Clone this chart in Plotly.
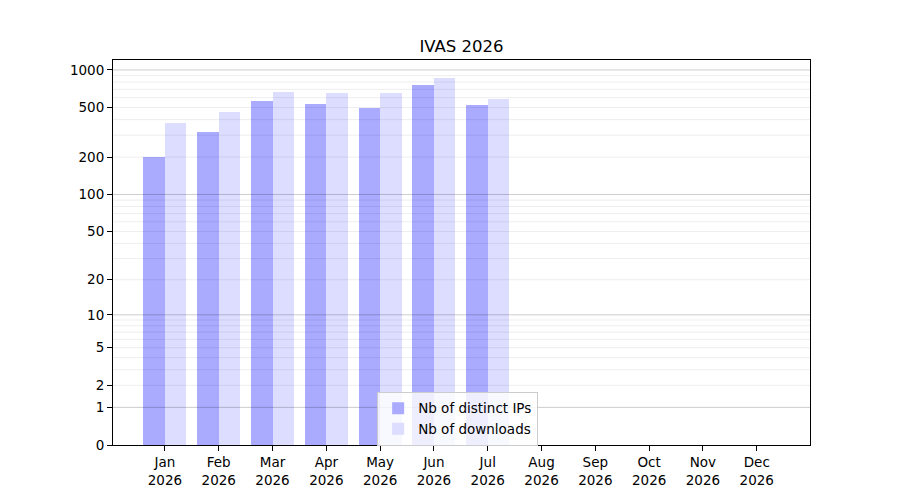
import numpy as np
import plotly.graph_objects as go

# monthly stats (Aug-Dec not reached yet)
months = ['Jan', 'Feb', 'Mar', 'Apr', 'May', 'Jun', 'Jul', 'Aug', 'Sep', 'Oct', 'Nov', 'Dec']
year = '2026'
distinct_ips = [201, 318, 564, 534, 496, 758, 524, 0, 0, 0, 0, 0]
downloads = [376, 461, 666, 654, 654, 862, 585, 0, 0, 0, 0, 0]

y_ticks = [0, 1, 2, 5, 10, 20, 50, 100, 200, 500, 1000]
major_grid = [1, 10, 100, 1000]
minor_grid = [2, 3, 4, 5, 6, 7, 8, 9, 20, 30, 40, 50, 60, 70, 80, 90,
              200, 300, 400, 500, 600, 700, 800, 900]

x = np.arange(len(months))
font = "DejaVu Sans"

fig = go.Figure()

# axis is log10(v + 1): bars sit on base 1 and reach 1 + v
fig.add_trace(go.Bar(x=x - 0.2, y=distinct_ips, base=1, width=0.4,
                     marker=dict(color='#aaaaff', line=dict(width=0)),
                     name='Nb of distinct IPs'))
fig.add_trace(go.Bar(x=x + 0.2, y=downloads, base=1, width=0.4,
                     marker=dict(color='#ddddff', line=dict(width=0)),
                     name='Nb of downloads'))


def grid_trace(values, color):
    gx, gy = [], []
    for v in values:
        gx += [-2, 13, None]
        gy += [v + 1, v + 1, None]
    return go.Scatter(x=gx, y=gy, mode='lines', line=dict(color=color, width=1),
                      showlegend=False, hoverinfo='skip')


# grid drawn over the bars, like the original
fig.add_trace(grid_trace(minor_grid, 'rgba(0,0,0,0.07)'))
fig.add_trace(grid_trace(major_grid, 'rgba(0,0,0,0.2)'))

# page body has an 8px margin, so figure is a bit smaller than the window
fig.update_layout(
    width=892, height=492,
    margin=dict(l=105, r=90, t=52, b=55),
    paper_bgcolor='white', plot_bgcolor='white',
    font=dict(family=font, size=13.5, color='black'),
    title=dict(text='IVAS ' + year, xref='paper', x=0.5, xanchor='center',
               y=0.923, yanchor='middle',
               font=dict(size=16.5, color='black')),
    barmode='overlay',
    showlegend=True,
    legend=dict(x=0.379, y=0.138, xanchor='left', yanchor='top',
                bgcolor='rgba(255,255,255,0.8)', bordercolor='#cccccc', borderwidth=1,
                font=dict(size=13.5)),
    bargap=0,
)

fig.update_xaxes(
    range=[-0.965, 11.99],
    tickvals=list(x),
    ticktext=[m + '<br>' + year for m in months],
    ticks='outside', ticklen=5, tickcolor='black', tickwidth=1,
    showline=True, linecolor='black', linewidth=1, mirror=True,
    showgrid=False, zeroline=False,
)
fig.update_yaxes(
    type='log',
    range=[0, 3.08],
    tickvals=[t + 1 for t in y_ticks],
    ticktext=[str(t) for t in y_ticks],
    ticks='outside', ticklen=5, tickcolor='black', tickwidth=1,
    showline=True, linecolor='black', linewidth=1, mirror=True,
    showgrid=False, zeroline=False,
)

fig.write_html("out.html")
